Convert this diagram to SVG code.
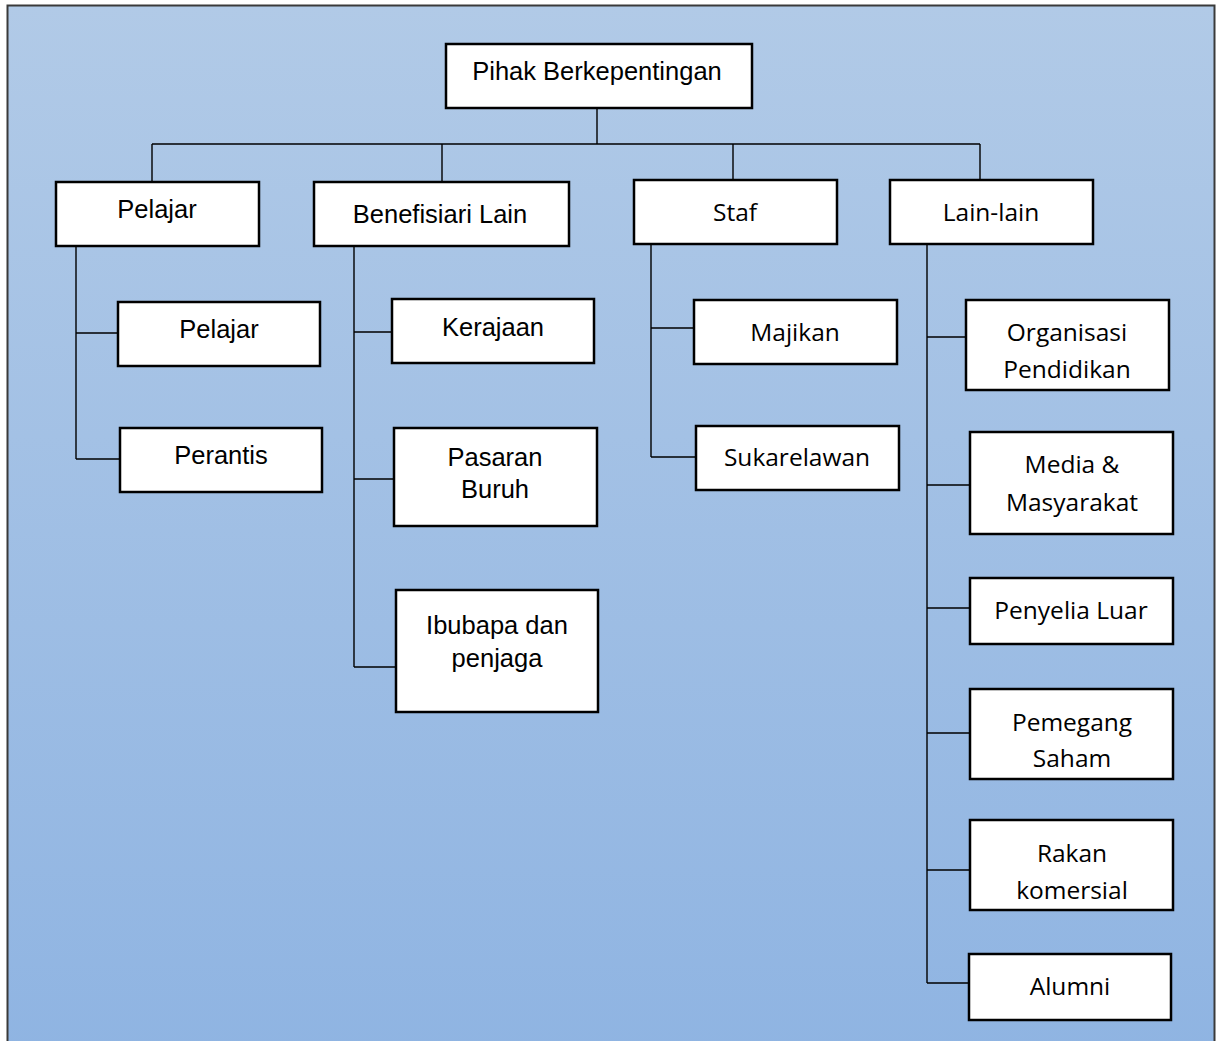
<svg xmlns="http://www.w3.org/2000/svg" width="1221" height="1041" viewBox="0 0 1221 1041">
  <defs>
    <linearGradient id="bg" x1="0" y1="0" x2="0" y2="1">
      <stop offset="0" stop-color="#b1cae7"/>
      <stop offset="1" stop-color="#8fb4e2"/>
    </linearGradient>
  </defs>
  <style>
    .box { fill: #ffffff; stroke: #000000; stroke-width: 2.5; }
    .link { fill: none; stroke: #000000; stroke-width: 1.4; }
    .arial { font-family: "Liberation Sans", Arial, sans-serif; font-size: 25.5px; fill: #000000; text-anchor: middle; }
    .sans { font-family: "Open Sans", "Noto Sans", sans-serif; font-size: 24.5px; fill: #000000; text-anchor: middle; }
  </style>

  <!-- background panel -->
  <rect x="7.5" y="5.5" width="1207" height="1050" fill="url(#bg)" stroke="#3a3a3a" stroke-width="2"/>

  <!-- connectors -->
  <g id="connectors">
    <path class="link" d="M597 108 V144 M152 144 H980 M152 144 V182 M442 144 V182 M733 144 V180 M980 144 V180"/>
    <path class="link" d="M76 246 V459 M76 333 H118 M76 459 H120"/>
    <path class="link" d="M354 246 V667 M354 332 H392 M354 479 H394 M354 667 H396"/>
    <path class="link" d="M651 244 V457 M651 328 H694 M651 457 H696"/>
    <path class="link" d="M927 244 V983 M927 337 H966 M927 485 H970 M927 608 H970 M927 733 H970 M927 870 H970 M927 983 H969"/>
  </g>

  <!-- root -->
  <g id="pihak-berkepentingan">
    <rect class="box" x="446" y="44" width="306" height="64"/>
    <text class="arial" x="597" y="80">Pihak Berkepentingan</text>
  </g>

  <!-- level 1 -->
  <g id="pelajar">
    <rect class="box" x="56" y="182" width="203" height="64"/>
    <text class="arial" x="157" y="218">Pelajar</text>
  </g>
  <g id="benefisiari-lain">
    <rect class="box" x="314" y="182" width="255" height="64"/>
    <text class="arial" x="440" y="223">Benefisiari Lain</text>
  </g>
  <g id="staf">
    <rect class="box" x="634" y="180" width="203" height="64"/>
    <text class="sans" x="735" y="221">Staf</text>
  </g>
  <g id="lain-lain">
    <rect class="box" x="890" y="180" width="203" height="64"/>
    <text class="sans" x="991" y="221">Lain-lain</text>
  </g>

  <!-- Pelajar branch -->
  <g id="pelajar-sub">
    <rect class="box" x="118" y="302" width="202" height="64"/>
    <text class="arial" x="219" y="338">Pelajar</text>
  </g>
  <g id="perantis">
    <rect class="box" x="120" y="428" width="202" height="64"/>
    <text class="arial" x="221" y="464">Perantis</text>
  </g>

  <!-- Benefisiari Lain branch -->
  <g id="kerajaan">
    <rect class="box" x="392" y="299" width="202" height="64"/>
    <text class="arial" x="493" y="336">Kerajaan</text>
  </g>
  <g id="pasaran-buruh">
    <rect class="box" x="394" y="428" width="203" height="98"/>
    <text class="arial" x="495" y="466">Pasaran</text>
    <text class="arial" x="495" y="498">Buruh</text>
  </g>
  <g id="ibubapa-penjaga">
    <rect class="box" x="396" y="590" width="202" height="122"/>
    <text class="arial" x="497" y="634">Ibubapa dan</text>
    <text class="arial" x="497" y="667">penjaga</text>
  </g>

  <!-- Staf branch -->
  <g id="majikan">
    <rect class="box" x="694" y="300" width="203" height="64"/>
    <text class="sans" x="795" y="341">Majikan</text>
  </g>
  <g id="sukarelawan">
    <rect class="box" x="696" y="426" width="203" height="64"/>
    <text class="sans" x="797" y="466">Sukarelawan</text>
  </g>

  <!-- Lain-lain branch -->
  <g id="organisasi-pendidikan">
    <rect class="box" x="966" y="300" width="203" height="90"/>
    <text class="sans" x="1067" y="341">Organisasi</text>
    <text class="sans" x="1067" y="378">Pendidikan</text>
  </g>
  <g id="media-masyarakat">
    <rect class="box" x="970" y="432" width="203" height="102"/>
    <text class="sans" x="1072" y="473">Media &amp;</text>
    <text class="sans" x="1072" y="511">Masyarakat</text>
  </g>
  <g id="penyelia-luar">
    <rect class="box" x="970" y="578" width="203" height="66"/>
    <text class="sans" x="1071" y="619">Penyelia Luar</text>
  </g>
  <g id="pemegang-saham">
    <rect class="box" x="970" y="689" width="203" height="90"/>
    <text class="sans" x="1072" y="731">Pemegang</text>
    <text class="sans" x="1072" y="767">Saham</text>
  </g>
  <g id="rakan-komersial">
    <rect class="box" x="970" y="820" width="203" height="90"/>
    <text class="sans" x="1072" y="862">Rakan</text>
    <text class="sans" x="1072" y="899">komersial</text>
  </g>
  <g id="alumni">
    <rect class="box" x="969" y="954" width="202" height="66"/>
    <text class="sans" x="1070" y="995">Alumni</text>
  </g>
</svg>
